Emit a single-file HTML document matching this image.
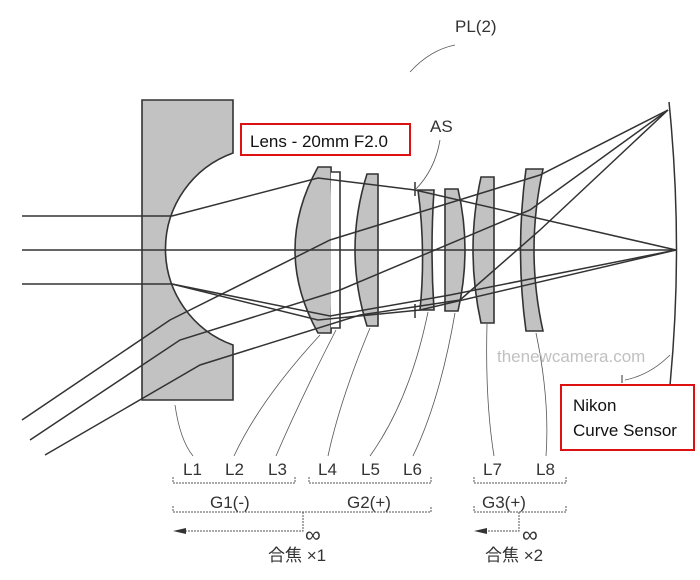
<!DOCTYPE html>
<html><head><meta charset="utf-8"><style>
body{margin:0;background:#fff;width:700px;height:580px;overflow:hidden}
svg{display:block}
text{font-family:"Liberation Sans","Noto Sans CJK JP",sans-serif;fill:#333}
</style></head><body>
<svg width="700" height="580" viewBox="0 0 700 580">
<g stroke="#333" stroke-width="1.6" fill="#c2c2c2">
<path d="M142,100 H233 V153 A102,102 0 0 0 233,345 V400 H142 Z"/>
<path d="M318,167 H331 Q334,250 331,333 H318 Q272,250 318,167 Z"/>
<path d="M331,172 H340 V328 H331" fill="#fff"/>
<path d="M367,174 H378 V326 H367 Q343,250 367,174 Z"/>
<path d="M418,190 H434 Q430,250 434,310 H420 Q426,250 418,190 Z"/>
<path d="M445,189 H458 Q472,250 458,311 H445 Z"/>
<path d="M481,177 H494 V323 H481 Q465,250 481,177 Z"/>
<path d="M526,169 H543 Q525,250 543,331 H526 Q515,250 526,169 Z"/>
</g>
<g stroke="#333" stroke-width="1.5" fill="none">
<line x1="22" y1="250" x2="676" y2="250"/>
<line x1="22" y1="216" x2="172" y2="216"/>
<line x1="22" y1="284" x2="172" y2="284"/>
<polyline points="172,216 318,178 415,190 676,250"/>
<polyline points="172,284 318,320 420,310 676,250"/>
<polyline points="22,420 170,320 330,240 540,175 668,110"/>
<polyline points="30,440 180,340 340,290 530,210 668,110"/>
<polyline points="45,455 200,365 360,315 460,300 540,230 668,110"/>
<polyline points="172,284 330,316 450,295 676,250"/>
<path d="M669,102 Q684,250 669,395"/>
<line x1="415" y1="182" x2="415" y2="196"/><line x1="415" y1="304" x2="415" y2="318"/>
</g>
<g stroke="#555" stroke-width="0.8" fill="none">
<path d="M415,190 Q435,170 440,140"/>
<path d="M175,405 Q180,440 193,456"/>
<path d="M320,335 Q260,400 234,456"/>
<path d="M336,330 Q300,400 276,456"/>
<path d="M370,328 Q340,400 328,456"/>
<path d="M428,312 Q410,400 370,456"/>
<path d="M455,313 Q440,400 413,456"/>
<path d="M487,324 Q485,400 494,456"/>
<path d="M536,333 Q550,400 546,456"/>
<path d="M625,380 Q650,375 670,355"/>
<path d="M455,45 Q430,50 410,72"/>
</g>
<text x="455" y="32" font-size="17">PL(2)</text>
<text x="430" y="132" font-size="17">AS</text>
<text x="497" y="362" font-size="17" style="fill:#c0c0c0">thenewcamera.com</text>
<rect x="241" y="124" width="169" height="31" fill="#fff" stroke="#d11" stroke-width="2"/>
<text x="250" y="147" font-size="17" style="fill:#111">Lens - 20mm F2.0</text>
<rect x="561" y="385" width="133" height="65" fill="#fff" stroke="#d11" stroke-width="2"/>
<text x="573" y="411" font-size="17" style="fill:#111">Nikon</text>
<text x="573" y="436" font-size="17" style="fill:#111">Curve Sensor</text>
<line x1="622" y1="375" x2="622" y2="383" stroke="#333"/>
<g font-size="17">
<text x="183" y="475">L1</text><text x="225" y="475">L2</text><text x="268" y="475">L3</text>
<text x="318" y="475">L4</text><text x="361" y="475">L5</text><text x="403" y="475">L6</text>
<text x="483" y="475">L7</text><text x="536" y="475">L8</text>
<text x="210" y="508">G1(-)</text><text x="347" y="508">G2(+)</text><text x="474" y="508" dx="8">G3(+)</text>
<text x="305" y="542" font-size="22">∞</text><text x="522" y="542" font-size="22">∞</text>
<text x="268" y="561" font-size="17">合焦 ×1</text><text x="485" y="561" font-size="17">合焦 ×2</text>
</g>
<g stroke="#555" stroke-width="1" fill="none" stroke-dasharray="2,1">
<path d="M173,477 V483 H295 V477"/><path d="M309,477 V483 H431 V477"/><path d="M474,477 V483 H566 V477"/>
<path d="M173,506 V512 H431 V506"/><path d="M474,506 V512 H566 V506"/>
<path d="M303,512 V531 H180"/><path d="M519,512 V531 H480"/>
</g>
<path d="M173,531 L186,528 L186,534 Z" fill="#333"/>
<path d="M474,531 L487,528 L487,534 Z" fill="#333"/>
</svg>
</body></html>
